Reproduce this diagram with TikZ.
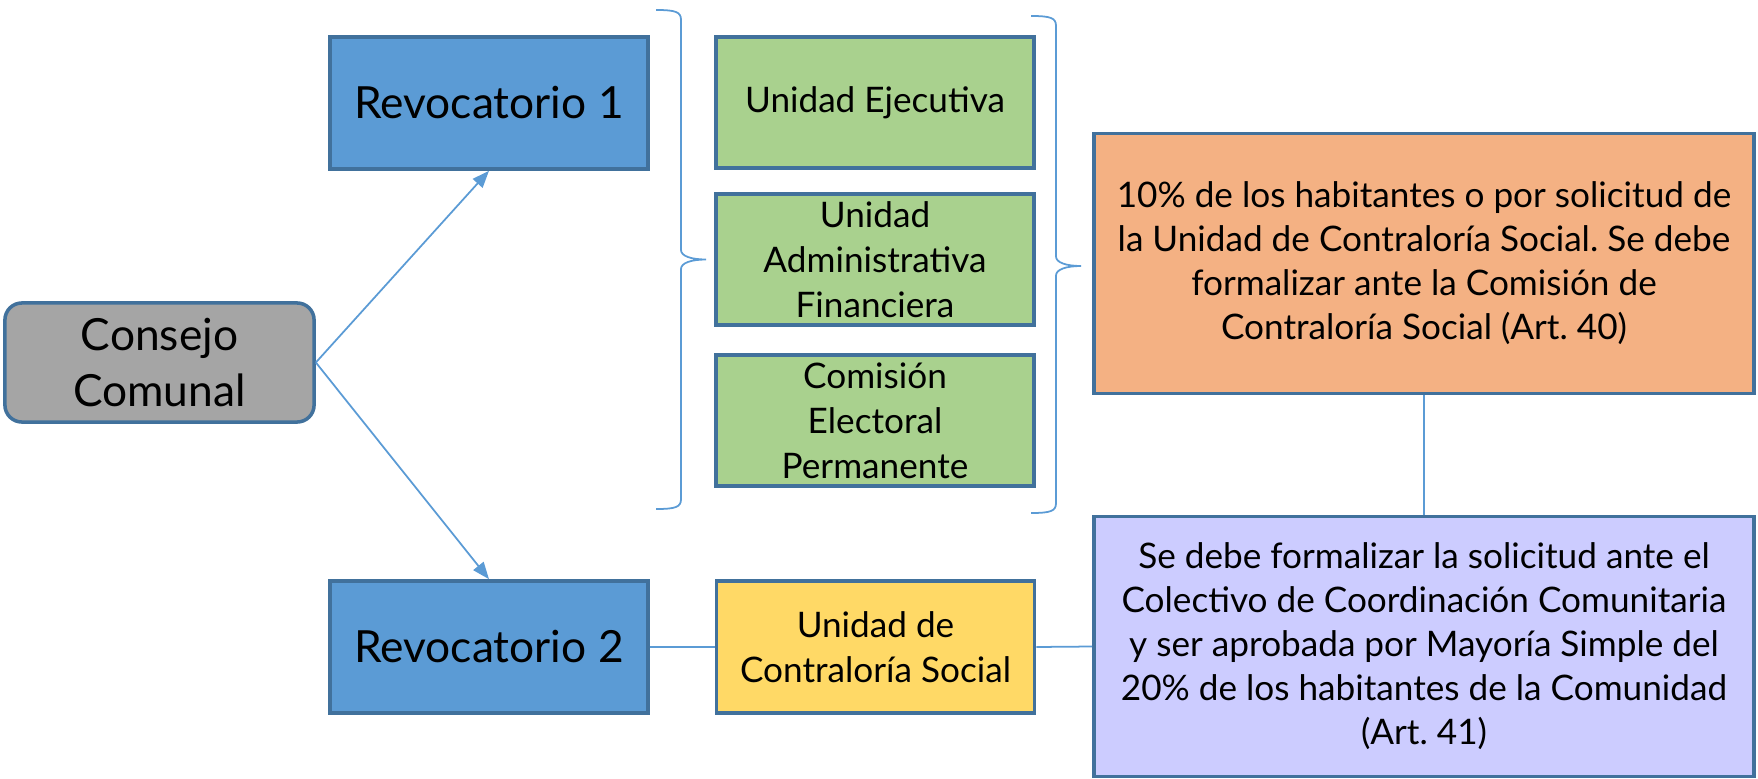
\documentclass[tikz,border=0pt]{standalone}
\usepackage{tikz}
\usepackage{xcolor}
\usepackage{fontspec}
\setmainfont{Lato}
\usetikzlibrary{arrows.meta}
\frenchspacing

\definecolor{boxline}{HTML}{41719C}
\definecolor{linkblue}{HTML}{5B9BD5}
\definecolor{revblue}{HTML}{5B9BD5}
\definecolor{consejogray}{HTML}{A5A5A5}
\definecolor{unitgreen}{HTML}{A9D18E}
\definecolor{artorange}{HTML}{F4B183}
\definecolor{ucsyellow}{HTML}{FFD966}
\definecolor{artlilac}{HTML}{CCCCFF}

\tikzset{
  box/.style={draw=boxline, line width=1pt, align=center, inner sep=0pt, text=black},
  bigbox/.style={box, minimum width=3.18cm, minimum height=1.32cm, font=\fontsize{12.6}{15.9}\selectfont},
  unitbox/.style={box, minimum width=3.18cm, minimum height=1.31cm, font=\fontsize{10}{12.8}\selectfont},
  artbox/.style={box, minimum width=6.6cm, minimum height=2.6cm, font=\fontsize{10}{12.5}\selectfont},
  link/.style={draw=linkblue, line width=0.5pt},
  groupbrace/.style={draw=linkblue, line width=0.5pt}
}

\begin{document}
\begin{tikzpicture}[x=0.01cm,y=-0.01cm]
  \useasboundingbox (0,0) rectangle (1758,779);

  % Left column
  \node[bigbox, fill=consejogray, rounded corners=0.17cm, minimum width=3.09cm, minimum height=1.19cm] (consejo) at (159.5,362.5) {Consejo\\Comunal};
  \node[bigbox, fill=revblue] (rev1) at (489,103) {Revocatorio 1};
  \node[bigbox, fill=revblue] (rev2) at (489,647) {Revocatorio 2};

  % Units
  \node[unitbox, fill=unitgreen] (ue) at (875,102.5) {Unidad Ejecutiva};
  \node[unitbox, fill=unitgreen] (uaf) at (875,259.5) {Unidad\\Administrativa\\Financiera};
  \node[unitbox, fill=unitgreen] (cep) at (875,420.5) {Comisión\\Electoral\\Permanente};
  \node[unitbox, fill=ucsyellow, minimum height=1.32cm] (ucs) at (875.5,647) {Unidad de\\Contraloría Social};

  % Articles
  \node[artbox, fill=artorange] (art40) at (1424,263.5) {10\% de los habitantes o por solicitud de\\la Unidad de Contraloría Social. Se debe\\formalizar ante la Comisión de\\Contraloría Social (Art. 40)};
  \node[artbox, fill=artlilac] (art41) at (1424,646.5) {Se debe formalizar la solicitud ante el\\Colectivo de Coordinación Comunitaria\\y ser aprobada por Mayoría Simple del\\20\% de los habitantes de la Comunidad\\(Art. 41)};

  % Braces
  \coordinate (lbtop) at (656,10);
  \coordinate (rbtop) at (1031,16);
  \draw[groupbrace] (lbtop) .. controls +(20,0) and +(0,-8) .. ++(25,10)
    -- ++(0,230) .. controls +(0,6) and +(-15,0) .. ++(25,9.5)
    .. controls +(-15,0) and +(0,-6) .. ++(-25,9.5)
    -- ++(0,230) .. controls +(0,8) and +(20,0) .. ++(-25,10);
  \draw[groupbrace] (rbtop) .. controls +(20,0) and +(0,-8) .. ++(25,10)
    -- ++(0,230.5) .. controls +(0,6) and +(-15,0) .. ++(25,9.5)
    .. controls +(-15,0) and +(0,-6) .. ++(-25,9.5)
    -- ++(0,227.5) .. controls +(0,8) and +(20,0) .. ++(-25,10);

  % Connectors
  \draw[link,-{Triangle[length=0.17cm,width=0.13cm]}] (consejo.east) -- (rev1.south);
  \draw[link,-{Triangle[length=0.17cm,width=0.13cm]}] (consejo.east) -- (rev2.north);
  \draw[link] (rev2.east) -- (ucs.west);
  \draw[link] (ucs.east) -- (art41.west);
  \draw[link] (art40.south) -- (art41.north);
\end{tikzpicture}
\end{document}
